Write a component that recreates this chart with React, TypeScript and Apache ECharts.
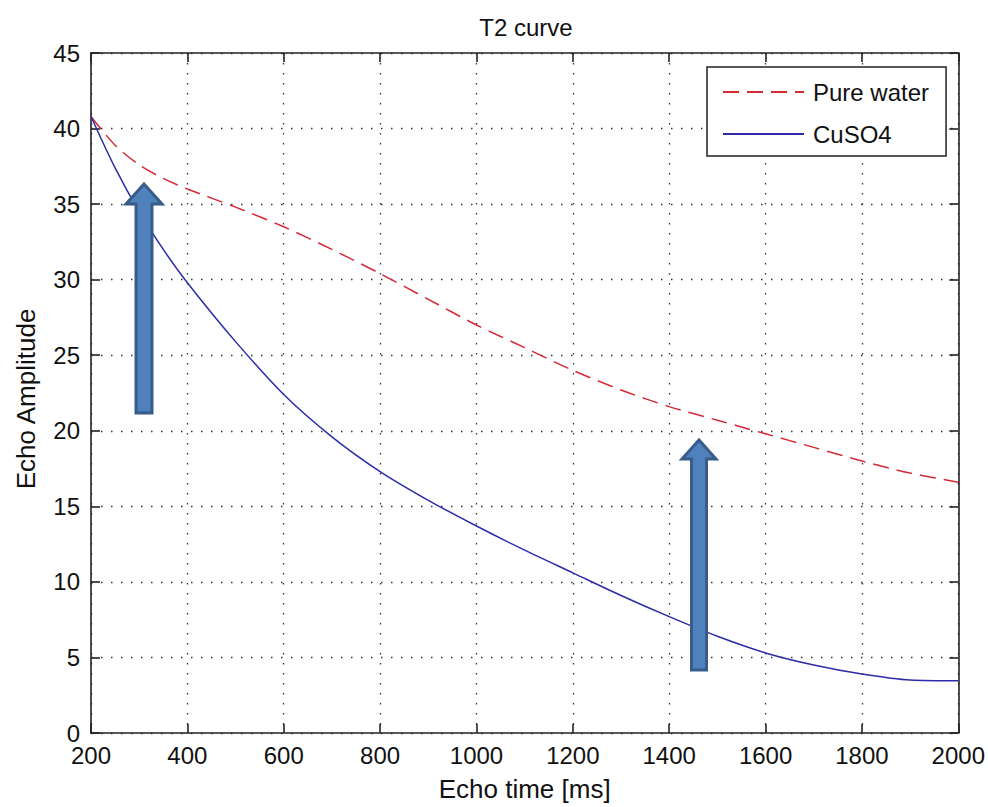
import React, { useEffect, useRef } from "react";
import * as echarts from "echarts";

const echoTimes = [200, 250, 300, 350, 400, 500, 600, 700, 800, 900, 1000, 1100, 1200, 1300, 1400, 1500, 1600, 1700, 1800, 1900, 2000];
const pureWater = [40.8, 38.9, 37.6, 36.7, 36.0, 34.8, 33.5, 32.0, 30.4, 28.7, 27.0, 25.5, 24.0, 22.7, 21.6, 20.7, 19.8, 18.9, 18.0, 17.2, 16.6];
const cuso4 = [40.8, 37.4, 34.5, 32.0, 29.8, 25.9, 22.4, 19.6, 17.3, 15.4, 13.7, 12.1, 10.6, 9.1, 7.7, 6.4, 5.3, 4.5, 3.9, 3.5, 3.45];
const seriesNames = ["Pure water", "CuSO4"];
const xTicks = { min: 200, max: 2000, interval: 200 };
const yTicks = { min: 0, max: 45, interval: 5 };

const FONT = "Liberation Sans, Arial, sans-serif";

function arrow(cx: number, bottom: number, tip: number, shaftHalf: number, headHalf: number, headH: number) {
  const base = tip + headH;
  return [
    [cx - shaftHalf, bottom],
    [cx + shaftHalf, bottom],
    [cx + shaftHalf, base],
    [cx + headHalf, base],
    [cx, tip],
    [cx - headHalf, base],
    [cx - shaftHalf, base],
  ];
}

export default function App() {
  const ref = useRef<HTMLDivElement>(null);
  useEffect(() => {
    if (!ref.current) return;
    const chart = echarts.init(ref.current, null, { renderer: "svg" });
    const gridLine = { show: true, lineStyle: { color: "#333", width: 1.3, type: [1.5, 8.5] } };
    const axisLine = { show: true, onZero: false, lineStyle: { color: "#222", width: 1.6 } };
    const tick = { show: true, inside: true, length: 9, lineStyle: { color: "#222", width: 1.6 } };
    const plain = (v: number) => String(v);
    chart.setOption({
      animation: false,
      backgroundColor: "#ffffff",
      textStyle: { fontFamily: FONT },
      title: {
        text: "T2 curve",
        left: 521,
        top: 10,
        textAlign: "center",
        textStyle: { fontFamily: FONT, fontSize: 24, fontWeight: "normal", color: "#111" },
      },
      grid: { left: 91, top: 53, right: 29, bottom: 69, containLabel: false },
      legend: {
        orient: "vertical",
        left: 707,
        top: 67,
        padding: [13, 17, 10, 15],
        itemWidth: 81,
        itemHeight: 20,
        itemGap: 18,
        backgroundColor: "#fff",
        borderColor: "#222",
        borderWidth: 1.5,
        borderRadius: 0,
        itemStyle: { opacity: 0 },
        textStyle: { fontFamily: FONT, fontSize: 24, color: "#111", padding: [0, 0, 0, 4] },
        data: seriesNames,
      },
      xAxis: [
        {
          type: "value",
          min: xTicks.min,
          max: xTicks.max,
          interval: xTicks.interval,
          name: "Echo time [ms]",
          nameLocation: "middle",
          nameGap: 43,
          nameTextStyle: { fontFamily: FONT, fontSize: 26, color: "#111" },
          axisLine,
          axisTick: tick,
          axisLabel: { fontFamily: FONT, fontSize: 24, lineHeight: 20, color: "#111", margin: 12, formatter: plain },
          splitLine: gridLine,
        },
        {
          type: "value",
          position: "top",
          min: xTicks.min,
          max: xTicks.max,
          interval: xTicks.interval,
          axisLine,
          axisTick: tick,
          axisLabel: { show: false },
          splitLine: { show: false },
        },
      ],
      yAxis: [
        {
          type: "value",
          min: yTicks.min,
          max: yTicks.max,
          interval: yTicks.interval,
          name: "Echo Amplitude",
          nameLocation: "middle",
          nameGap: 52,
          nameTextStyle: { fontFamily: FONT, fontSize: 26, color: "#111", padding: [0, 12, 0, 0] },
          axisLine,
          axisTick: tick,
          axisLabel: { fontFamily: FONT, fontSize: 24, lineHeight: 18, color: "#111", margin: 11, formatter: plain },
          splitLine: gridLine,
        },
        {
          type: "value",
          position: "right",
          min: yTicks.min,
          max: yTicks.max,
          interval: yTicks.interval,
          axisLine,
          axisTick: tick,
          axisLabel: { show: false },
          splitLine: { show: false },
        },
      ],
      series: [
        {
          name: seriesNames[0],
          type: "line",
          symbol: "none",
          smooth: 0.3,
          data: echoTimes.map((t, i) => [t, pureWater[i]]),
          lineStyle: { color: "#d42a35", width: 1.5, type: [16, 8] },
          itemStyle: { color: "#d42a35" },
          z: 3,
        },
        {
          name: seriesNames[1],
          type: "line",
          symbol: "none",
          smooth: 0.3,
          data: echoTimes.map((t, i) => [t, cuso4[i]]),
          lineStyle: { color: "#2c2ca8", width: 1.5 },
          itemStyle: { color: "#2c2ca8" },
          z: 3,
        },
      ],
      graphic: [
        {
          type: "polygon",
          z: 100,
          shape: { points: arrow(144, 413, 184, 8, 18, 20) },
          style: { fill: "#4f81bd", stroke: "#385d8a", lineWidth: 3 },
        },
        {
          type: "polygon",
          z: 100,
          shape: { points: arrow(699, 670, 440, 7.5, 17, 19) },
          style: { fill: "#4f81bd", stroke: "#385d8a", lineWidth: 3 },
        },
      ],
    });
    return () => chart.dispose();
  }, []);
  return (
    <div
      ref={ref}
      style={{ position: "fixed", left: 0, top: 0, width: 988, height: 807, background: "#fff" }}
    />
  );
}
